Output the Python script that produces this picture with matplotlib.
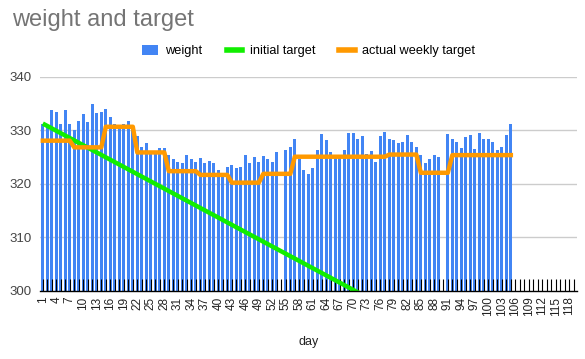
import numpy as np
import matplotlib
matplotlib.use("Agg")
import matplotlib.pyplot as plt
from matplotlib.patches import Patch
from matplotlib.lines import Line2D

plt.rcParams["font.family"] = ["Liberation Sans", "DejaVu Sans"]

# daily weight, None = no weigh-in that day
weight = [
    331.2, 330.8, 333.8, 333.4, 331.3, 333.8, 331.3,
    330.1, 331.8, 333.0, 331.5, 334.9, 333.2, 333.4,
    334.0, 332.5, 331.3, 331.0, 331.2, 331.8, 330.9,
    329.0, 326.9, 327.7, 326.2, 326.2, 326.7, 326.7,
    325.5, 324.6, 324.2, 324.0, 325.4, 324.6, 324.2,
    324.8, 323.9, 324.3, 324.0, 322.6, 322.0, 323.1,
    323.5, 322.9, 323.1, 325.5, 323.9, 325.0, 324.1,
    325.2, 324.6, 324.2, 325.9, None, 326.3, 327.0,
    328.4, 324.6, 322.6, 321.8, 322.9, 326.3, 329.3,
    328.2, 325.9, 325.2, 325.3, 326.3, 329.5, 329.5,
    328.4, 328.9, 325.7, 326.1, 324.2, 328.9, 329.8,
    328.5, 328.2, 327.6, 327.8, 329.1, 327.8, 327.0,
    325.4, 323.9, 324.6, 325.4, 325.0, None, 329.3,
    328.5, 327.8, 326.7, 328.7, 329.1, 326.5, 329.5,
    328.5, 328.4, 327.8, 326.3, 327.0, 329.1, 331.2,
]

# actual weekly target, one value per day
weekly_target = [
    328.1, 328.1, 328.1, 328.1, 328.1, 328.1, 328.1,
    326.85, 326.85, 326.85, 326.85, 326.85, 326.85, 326.85,
    330.7, 330.7, 330.7, 330.7, 330.7, 330.7, 330.7,
    325.9, 325.9, 325.9, 325.9, 325.9, 325.9, 325.9,
    322.4, 322.4, 322.4, 322.4, 322.4, 322.4, 322.4,
    321.7, 321.7, 321.7, 321.7, 321.7, 321.7, 321.7,
    320.25, 320.25, 320.25, 320.25, 320.25, 320.25, 320.25,
    321.9, 321.9, 321.9, 321.9, 321.9, 321.9, 321.9,
    325.1, 325.1, 325.1, 325.1, 325.1, 325.1, 325.1,
    325.1, 325.1, 325.1, 325.1, 325.1, 325.1, 325.1,
    325.1, 325.1, 325.1, 325.1, 325.1, 325.1, 325.1,
    325.5, 325.5, 325.5, 325.5, 325.5, 325.5, 325.5,
    322.1, 322.1, 322.1, 322.1, 322.1, 322.1, 322.1,
    325.4, 325.4, 325.4, 325.4, 325.4, 325.4, 325.4,
    325.4, 325.4, 325.4, 325.4, 325.4, 325.4, 325.4,
]

# initial target: straight line, start and a point past the axis bottom
initial_days = [1, 72]
initial_target = [331.3, 299.3]

n_days_axis = 119
days = list(range(1, len(weight) + 1))
axis_days = list(range(1, n_days_axis + 1))

blue = "#4285f4"
green = "#11ee00"
orange = "#ff9900"

fig = plt.figure(figsize=(5.85, 3.59), dpi=100)
ax = fig.add_axes([40 / 585, 1 - 291 / 359, 537 / 585, 214 / 359])

for y in [310, 320, 330, 340]:
    ax.axhline(y, color="#cccccc", lw=1, zorder=0.5)

bar_days = [d for d, w in zip(days, weight) if w is not None]
bar_vals = [w for w in weight if w is not None]
ax.bar(bar_days, [v - 300 for v in bar_vals], bottom=300, width=0.6,
       color=blue, zorder=1)

ax.plot(initial_days, initial_target, color=green, lw=3.2, zorder=3,
        solid_capstyle="butt")
ax.plot(days, weekly_target, color=orange, lw=3.2, zorder=4)

ax.set_xlim(0.38, 119.7)
ax.set_ylim(300, 340)
ax.set_yticks([300, 310, 320, 330, 340])
ax.set_xticks(axis_days)
ax.set_xticklabels([str(d) if (d - 1) % 3 == 0 else "" for d in axis_days])

ax.tick_params(axis="x", direction="in", length=8.6, width=0.8,
               color="black", pad=4, labelrotation=90, labelsize=8.5,
               labelcolor="#222222")
ax.tick_params(axis="y", length=0, pad=6, labelsize=9.5, labelcolor="#444444")

for s in ["top", "right", "left"]:
    ax.spines[s].set_visible(False)
ax.spines["bottom"].set_color("black")
ax.spines["bottom"].set_linewidth(1.0)
ax.spines["bottom"].set_zorder(5)

ax.set_xlabel("day", fontsize=9, color="#222222", labelpad=14)

fig.text(12 / 585, 1 - 20 / 359, "weight and target", fontsize=17,
         color="#757575", va="center", ha="left")

handles = [
    Patch(facecolor=blue, edgecolor="none"),
    Line2D([0], [0], color=green, lw=4),
    Line2D([0], [0], color=orange, lw=4),
]
fig.legend(handles, ["weight", "initial target", "actual weekly target"],
           loc="center", bbox_to_anchor=(0.528, 1 - 51 / 359), ncol=3,
           frameon=False, fontsize=9.2, handlelength=1.2, handleheight=0.9,
           columnspacing=1.9, handletextpad=0.6)

fig.savefig("out.png", dpi=100)
